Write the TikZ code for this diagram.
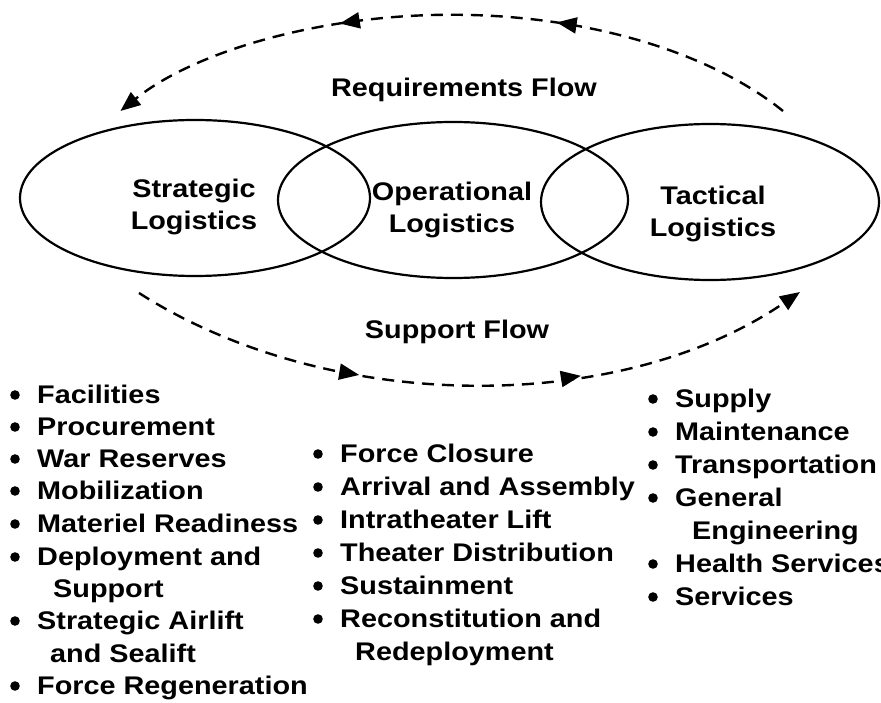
\documentclass[tikz,border=0pt]{standalone}
\usepackage{fontspec}
\setmainfont{Liberation Sans}[FakeStretch=1.13]
\usetikzlibrary{arrows.meta,decorations.markings}
\tikzset{
  lbl/.style={font=\fontsize{25.5}{32}\selectfont\bfseries, inner sep=0pt},
  itemtext/.style={lbl, anchor=base west},
  ring/.style={line width=2.2pt},
  flow/.style={line width=2.4pt, dash pattern=on 12pt off 8pt},
  midtips/.style 2 args={decoration={markings,
      mark=at position #1 with {\arrow{Triangle[length=20pt,width=16pt]}},
      mark=at position #2 with {\arrow{Triangle[length=20pt,width=16pt]}}},
      postaction={decorate}},
  endtip/.style={-{Triangle[length=20pt,width=16pt]}}
}
\newcommand\itm[4]{%
  \fill (#2-22,-#3+8) circle (4.8pt);
  \node[itemtext] (#1) at (#2,-#3) {#4};}
\newcommand\cont[4]{\node[itemtext] (#1) at (#2,-#3) {#4};}
\begin{document}
\begin{tikzpicture}[x=1pt,y=1pt]
\useasboundingbox (0,0) rectangle (881,-703);
% ellipses
\draw[ring] (195,-198) ellipse [x radius=175pt, y radius=78pt];
\draw[ring] (453,-200) ellipse [x radius=175pt, y radius=78pt];
\draw[ring] (710,-202) ellipse [x radius=169pt, y radius=78pt];
\node[lbl, align=center] (strat) at (194,-207) {Strategic\\Logistics};
\node[lbl, align=center] (oper) at (452,-210) {Operational\\Logistics};
\node[lbl, align=center] (tact) at (713,-214) {Tactical\\Logistics};
% flows
\coordinate (rqS) at (783,-111);
\coordinate (spS) at (139,-293);
\coordinate (spE) at (800,-292);
\draw[flow, endtip, midtips={0.35}{0.66}] (rqS) arc[start angle=34.5, end angle=145.5, x radius=402pt, y radius=222pt];
\node[lbl] (req) at (464,-90) {Requirements Flow};
\draw[flow, endtip, midtips={0.34}{0.66}] (spS) .. controls (330,-415) and (620,-415) .. (spE);
\node[lbl] (sup) at (457,-332) {Support Flow};
% left list
\itm{l1}{37}{403}{Facilities}
\itm{l2}{37}{435}{Procurement}
\itm{l3}{37}{467}{War Reserves}
\itm{l4}{37}{499}{Mobilization}
\itm{l5}{37}{532}{Materiel Readiness}
\itm{l6}{37}{565}{Deployment and}
\cont{l6b}{53}{597}{Support}
\itm{l7}{37}{629}{Strategic Airlift}
\cont{l7b}{50}{662}{and Sealift}
\itm{l8}{37}{694}{Force Regeneration}
% middle list
\itm{m1}{340}{462}{Force Closure}
\itm{m2}{340}{495}{Arrival and Assembly}
\itm{m3}{340}{528}{Intratheater Lift}
\itm{m4}{340}{561}{Theater Distribution}
\itm{m5}{340}{594}{Sustainment}
\itm{m6}{340}{627}{Reconstitution and}
\cont{m6b}{355}{660}{Redeployment}
% right list
\itm{r1}{675}{407}{Supply}
\itm{r2}{675}{440}{Maintenance}
\itm{r3}{675}{473}{Transportation}
\itm{r4}{675}{506}{General}
\cont{r4b}{692}{539}{Engineering}
\itm{r5}{675}{572}{Health Services}
\itm{r6}{675}{605}{Services}
\end{tikzpicture}
\end{document}
